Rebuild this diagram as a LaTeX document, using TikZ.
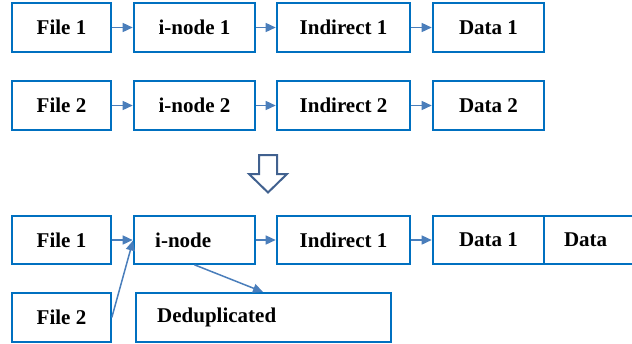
\documentclass[tikz,border=0pt]{standalone}
\usepackage{fontspec}
\setmainfont{Liberation Serif}
\usetikzlibrary{arrows.meta}
\definecolor{boxblue}{HTML}{0070C0}
\definecolor{linkblue}{HTML}{4A7EBB}
\definecolor{bigarrow}{HTML}{41618F}
\tikzset{
  blk/.style={draw=boxblue, line width=1.6bp, inner sep=0pt, fill=white,
    minimum height=49bp, font=\fontsize{21bp}{24bp}\selectfont\bfseries},
  link/.style={draw=linkblue, line width=1.5bp,
    -{Triangle[length=10bp,width=9bp]}, shorten >=0.5bp},
}
\begin{document}
\begin{tikzpicture}[x=1bp,y=-1bp]
\useasboundingbox (0,0) rectangle (632,343);
\clip (0,0) rectangle (632,343);

% first file: its own chain of blocks
\node[blk, minimum width=99bp]  (f1a) at (61.5,27.5)  {File 1};
\node[blk, minimum width=121bp] (i1a) at (194.5,27.5) {i-node 1};
\node[blk, minimum width=133bp] (r1a) at (343.5,27.5) {Indirect 1};
\node[blk, minimum width=111bp] (d1a) at (488.5,27.5) {Data 1};

% second file: its own chain of blocks
\node[blk, minimum width=99bp]  (f2a) at (61.5,105.5)  {File 2};
\node[blk, minimum width=121bp] (i2a) at (194.5,105.5) {i-node 2};
\node[blk, minimum width=133bp] (r2a) at (343.5,105.5) {Indirect 2};
\node[blk, minimum width=111bp] (d2a) at (488.5,105.5) {Data 2};

\draw[link] (f1a) -- (i1a);
\draw[link] (i1a) -- (r1a);
\draw[link] (r1a) -- (d1a);
\draw[link] (f2a) -- (i2a);
\draw[link] (i2a) -- (r2a);
\draw[link] (r2a) -- (d2a);

% hollow down arrow
\draw[bigarrow, line width=2bp, line join=miter, fill=white]
  (259,155) -- (277,155) -- (277,174) -- (287,174) -- (268,192.5)
  -- (249,174) -- (259,174) -- cycle;

% after deduplication: both files share one chain
\node[blk, minimum width=99bp, minimum height=48bp]  (f1b) at (61.5,240) {File 1};
\node[blk, minimum width=121bp, minimum height=48bp] (inb) at (194.5,240) {};
\node[anchor=west, inner sep=0pt, font=\fontsize{21bp}{24bp}\selectfont\bfseries]
  (inbt) at (155,240) {i-node};
\node[blk, minimum width=133bp, minimum height=48bp] (r1b) at (343.5,240) {Indirect 1};
\node[blk, minimum width=111bp, minimum height=48bp] (d1b) at (488.5,240) {Data 1};
\node[blk, minimum width=100bp, minimum height=48bp, text width=100bp, align=left]
  (dab) at (594,240) {\hspace{20bp}Data};

\node[blk, minimum width=99bp] (f2b) at (61.5,317.5) {File 2};
\node[blk, minimum width=255bp] (ddb) at (263.5,317.5) {};
\node[anchor=west, inner sep=0pt, font=\fontsize{21bp}{24bp}\selectfont\bfseries]
  (ddbt) at (157,317.5) {Deduplicated};

\draw[link] (f1b) -- (inb);
\draw[link] (inb) -- (r1b);
\draw[link] (r1b) -- (d1b);
\draw[link] (f2b.east) -- (inb.west);
\draw[link] (inb.south) -- (ddb.north);
\end{tikzpicture}
\end{document}
